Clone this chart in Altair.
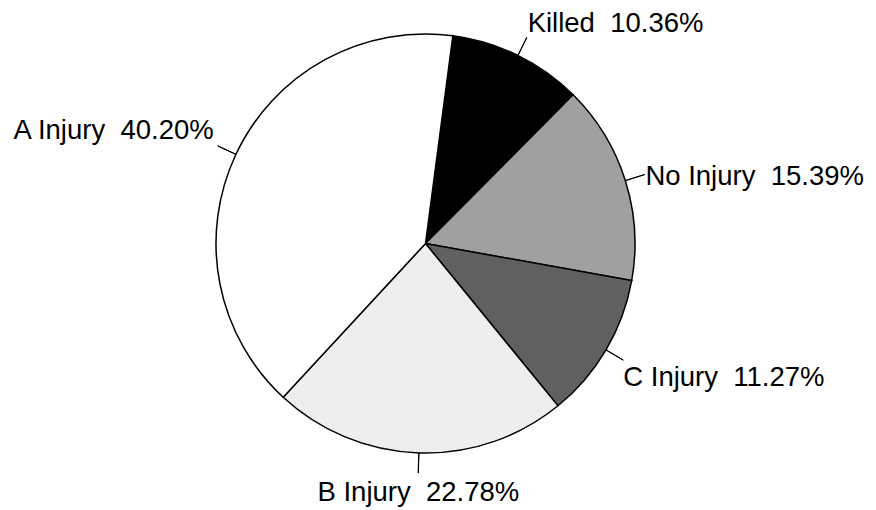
import math
import altair as alt
import pandas as pd

# ---- data ----
categories = ["Killed", "No Injury", "C Injury", "B Injury", "A Injury"]
percents = [10.36, 15.39, 11.27, 22.78, 40.20]

# ---- styles ----
fill_colors = ["#000000", "#a0a0a0", "#606060", "#eeeeee", "#ffffff"]
START = 7.5 * math.pi / 180  # first slice edge, clockwise from 12 o'clock
PIE_R = 209.5
LEADER_R = 229.5
FONT = "Liberation Sans"
FSIZE = 27.5
GAP = "\u00a0\u00a0"  # two non-collapsing spaces between name and percent

df = pd.DataFrame({
    "cat": categories,
    "pct": percents,
    "order": list(range(len(categories))),
})

theta_scale = alt.Scale(domain=[0, 100], range=[START, START + 2 * math.pi])

base = alt.Chart(df).transform_window(
    cum="sum(pct)", sort=[alt.SortField("order")], frame=[None, 0]
).transform_calculate(
    start="datum.cum - datum.pct",
    mid="datum.cum - datum.pct / 2",
    mid_end="datum.cum - datum.pct / 2 + 0.02",
    label="datum.cat + '" + GAP + "' + format(datum.pct, '.2f') + '%'",
).transform_calculate(
    ang=f"{START} + datum.mid / 100 * 2 * PI",
).transform_calculate(
    s="sin(datum.ang)",
    c="cos(datum.ang)",
)

wedges = base.mark_arc(outerRadius=PIE_R, stroke="black", strokeWidth=1.5).encode(
    theta=alt.Theta("start:Q", scale=theta_scale, stack=False),
    theta2="cum:Q",
    fill=alt.Fill("cat:N", scale=alt.Scale(domain=categories, range=fill_colors), legend=None),
)

leaders = base.mark_arc(
    innerRadius=PIE_R, outerRadius=LEADER_R, stroke="black", strokeWidth=1, fill="black"
).encode(
    theta=alt.Theta("mid:Q", scale=theta_scale, stack=False),
    theta2="mid_end:Q",
)


def label_layer(cond, align, dx, dy):
    return base.transform_filter(cond).mark_text(
        align=align, baseline="alphabetic", dx=dx, dy=dy,
        font=FONT, fontSize=FSIZE, color="black",
    ).encode(
        theta=alt.Theta("mid:Q", scale=theta_scale, stack=False),
        radius=alt.value(LEADER_R),
        text="label:N",
    )


labels_layers = [
    label_layer("datum.s > 0.3 && datum.c > 0.35", "left", 1, -5),
    label_layer("datum.s > 0.3 && abs(datum.c) <= 0.35", "left", 1, 11),
    label_layer("datum.s > 0.3 && datum.c < -0.35", "left", 0, 26),
    label_layer("abs(datum.s) <= 0.3", "center", 0, 28),
    label_layer("datum.s < -0.3", "right", -4, -7),
]

chart = alt.layer(wedges, leaders, *labels_layers).properties(
    width=835,
    height=471,
    autosize=alt.AutoSizeParams(type="none"),
    padding={"left": 0, "top": 0, "right": 25, "bottom": 30},
).configure_view(stroke=None)

chart.save("out.html", embed_options={"renderer": "svg", "actions": False})
